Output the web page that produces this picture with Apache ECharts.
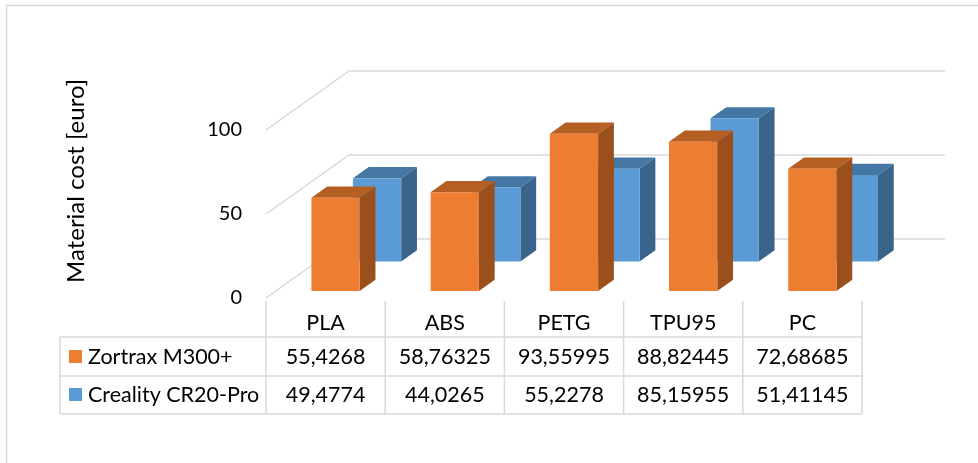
<!DOCTYPE html>
<html>
<head>
<meta charset="utf-8">
<script src="https://cdn.jsdelivr.net/npm/echarts@6/dist/echarts.min.js"></script>
<style>
html,body{margin:0;padding:0;background:#fff;}
#chart{width:978px;height:463px;}
</style>
</head>
<body>
<div id="chart"></div>
<script>
// ---- data ----
var categories = ['PLA', 'ABS', 'PETG', 'TPU95', 'PC'];
var seriesNames = ['Zortrax M300+', 'Creality CR20-Pro'];
var zortrax = [55.4268, 58.76325, 93.55995, 88.82445, 72.68685];
var creality = [49.4774, 44.0265, 55.2278, 85.15955, 51.41145];
var yTicks = [0, 50, 100];
var yTitle = 'Material cost [euro]';

// ---- layout / style constants ----
var FONT = 'Lato, "Open Sans", sans-serif';
var FS = 20;      // axis labels
var TFS = 21.5;   // table text
var DX = 83, DY = -59;          // depth vector of the 3D box
var BAR_W = 0.405;              // bar width as share of band
var BAR_T = 0.19;               // bar depth as share of full depth
var HEADER_TOP = 301, ROW1 = 337, ROW2 = 376, TBOT = 414, TLEFT = 60;
var LINE = '#d9d9d9';
var colors = {
  front: ['#ED7D31', '#5B9BD5'],
  top: ['#B65F25', '#4577A4'],
  side: ['#9A4F1D', '#3A6489']
};
var depthFront = [0.12, 0.62];

function fmt(v) { return String(v).replace('.', ','); }

function barRender(sIdx) {
  return function (params, api) {
    var i = api.value(0), v = api.value(1);
    var base = api.coord([i, 0]);
    var topP = api.coord([i, v]);
    var bw = api.size([1, 0])[0];
    var w = bw * BAR_W;
    var d = depthFront[sIdx];
    var x0 = base[0] - w / 2 + DX * d;
    var x1 = x0 + w;
    var yb = base[1] + DY * d;
    var yt = topP[1] + DY * d;
    var tx = DX * BAR_T, ty = DY * BAR_T;
    return {
      type: 'group',
      children: [
        { type: 'polygon', shape: { points: [[x1, yt], [x1 + tx, yt + ty], [x1 + tx, yb + ty], [x1, yb]] },
          style: { fill: colors.side[sIdx] } },
        { type: 'polygon', shape: { points: [[x0, yt], [x1, yt], [x1 + tx, yt + ty], [x0 + tx, yt + ty]] },
          style: { fill: colors.top[sIdx] } },
        { type: 'rect', shape: { x: x0, y: yt, width: w, height: yb - yt },
          style: { fill: colors.front[sIdx] } }
      ]
    };
  };
}

function gridRender(params, api) {
  var cs = params.coordSys;
  var v = api.value(1);
  var y = api.coord([0, v])[1];
  var xl = cs.x, xr = cs.x + cs.width;
  return {
    type: 'polyline',
    shape: { points: [[xl, y], [xl + DX, y + DY], [xr + DX, y + DY]] },
    style: { stroke: LINE, lineWidth: 1.5, fill: null }
  };
}

function tableRender(params, api) {
  var i = api.value(0);
  var c = api.coord([i, 0])[0];
  var bw = api.size([1, 0])[0];
  var xl = c - bw / 2, xr = c + bw / 2;
  var ts = { fontFamily: FONT, fontSize: TFS, fill: '#000', align: 'center', verticalAlign: 'middle' };
  var children = [
    { type: 'line', shape: { x1: xl, y1: HEADER_TOP, x2: xl, y2: TBOT }, style: { stroke: LINE, lineWidth: 1.5 } },
    { type: 'line', shape: { x1: xl, y1: ROW1, x2: xr, y2: ROW1 }, style: { stroke: LINE, lineWidth: 1.5 } },
    { type: 'line', shape: { x1: xl, y1: ROW2, x2: xr, y2: ROW2 }, style: { stroke: LINE, lineWidth: 1.5 } },
    { type: 'line', shape: { x1: xl, y1: TBOT, x2: xr, y2: TBOT }, style: { stroke: LINE, lineWidth: 1.5 } },
    { type: 'text', style: Object.assign({ x: c, y: 323, text: categories[i] }, ts) },
    { type: 'text', style: Object.assign({ x: c, y: 357, text: fmt(zortrax[i]) }, ts) },
    { type: 'text', style: Object.assign({ x: c, y: 395, text: fmt(creality[i]) }, ts) }
  ];
  if (i === categories.length - 1) {
    children.push({ type: 'line', shape: { x1: xr, y1: HEADER_TOP, x2: xr, y2: TBOT }, style: { stroke: LINE, lineWidth: 1.5 } });
  }
  return { type: 'group', children: children };
}

var chart = echarts.init(document.getElementById('chart'), null, { renderer: 'canvas' });
var option = {
  animation: false,
  backgroundColor: '#fff',
  grid: { left: 266, top: 130, width: 596, height: 168 },
  xAxis: { type: 'category', data: categories, show: false },
  yAxis: {
    type: 'value', min: 0, max: 100, interval: 50,
    axisLine: { show: false }, axisTick: { show: false }, splitLine: { show: false },
    axisLabel: { margin: 24, color: '#000', fontFamily: FONT, fontSize: FS, padding: [6, 0, 0, 0] }
  },
  graphic: [
    { type: 'rect', shape: { x: 6.5, y: 5.5, width: 1000, height: 1000 }, style: { fill: null, stroke: LINE, lineWidth: 1.5 }, z: -10 },
    { type: 'text', x: 76, y: 181, rotation: Math.PI / 2,
      style: { text: yTitle, fontFamily: FONT, fontSize: 24, fill: '#000', align: 'center', verticalAlign: 'middle' } },
    // left column of the data table
    { type: 'line', shape: { x1: TLEFT, y1: ROW1, x2: 266, y2: ROW1 }, style: { stroke: LINE, lineWidth: 1.5 } },
    { type: 'line', shape: { x1: TLEFT, y1: ROW2, x2: 266, y2: ROW2 }, style: { stroke: LINE, lineWidth: 1.5 } },
    { type: 'line', shape: { x1: TLEFT, y1: TBOT, x2: 266, y2: TBOT }, style: { stroke: LINE, lineWidth: 1.5 } },
    { type: 'line', shape: { x1: TLEFT, y1: ROW1, x2: TLEFT, y2: TBOT }, style: { stroke: LINE, lineWidth: 1.5 } },
    { type: 'rect', shape: { x: 69, y: 350, width: 13, height: 13 }, style: { fill: colors.front[0] } },
    { type: 'rect', shape: { x: 69, y: 388, width: 13, height: 13 }, style: { fill: colors.front[1] } },
    { type: 'text', x: 88, y: 357, style: { text: seriesNames[0], fontFamily: FONT, fontSize: TFS, fill: '#000', verticalAlign: 'middle' } },
    { type: 'text', x: 88, y: 395, style: { text: seriesNames[1], fontFamily: FONT, fontSize: TFS, fill: '#000', verticalAlign: 'middle' } }
  ],
  series: [
    { type: 'custom', name: 'grid', renderItem: gridRender, clip: false, z: 1,
      data: yTicks.map(function (t) { return [0, t]; }), encode: { x: 0, y: 1 } },
    { type: 'custom', name: seriesNames[1], renderItem: barRender(1), clip: false, z: 2,
      data: creality.map(function (v, i) { return [i, v]; }), encode: { x: 0, y: 1 } },
    { type: 'custom', name: seriesNames[0], renderItem: barRender(0), clip: false, z: 3,
      data: zortrax.map(function (v, i) { return [i, v]; }), encode: { x: 0, y: 1 } },
    { type: 'custom', name: 'table', renderItem: tableRender, clip: false, z: 4,
      data: categories.map(function (c, i) { return [i, 0]; }), encode: { x: 0, y: 1 } }
  ]
};
chart.setOption(option);
</script>
</body>
</html>
